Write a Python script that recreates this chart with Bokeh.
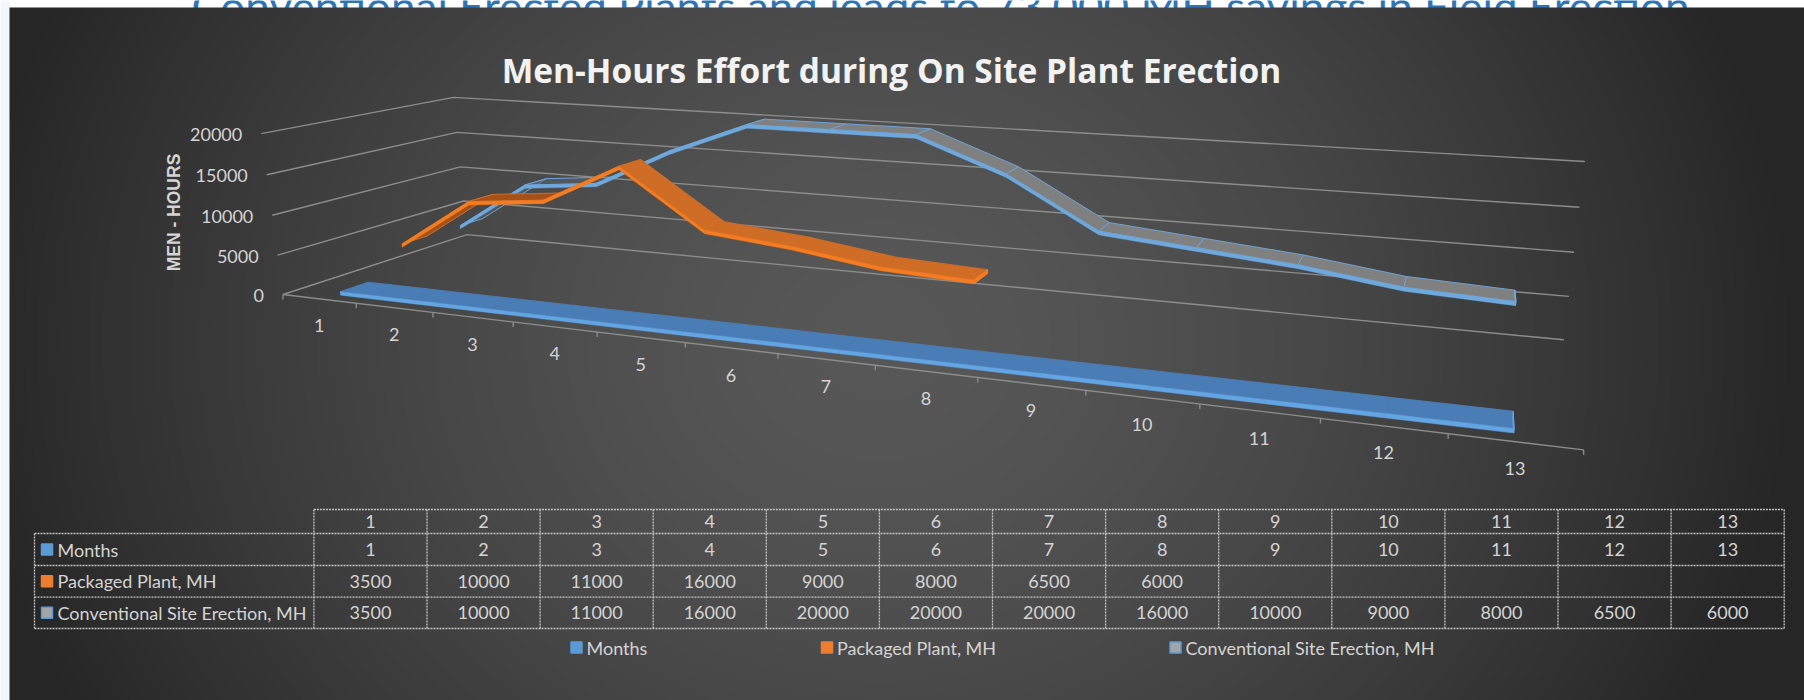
import numpy as np
from bokeh.plotting import figure
from bokeh.models import Range1d, ColumnDataSource
from bokeh.core.properties import value
from bokeh.embed import file_html
from bokeh.resources import INLINE

# ---------- data ----------
months = [1, 2, 3, 4, 5, 6, 7, 8, 9, 10, 11, 12, 13]
packaged = [3500, 10000, 11000, 16000, 9000, 8000, 6500, 6000]
conventional = [3500, 10000, 11000, 16000, 20000, 20000, 20000, 16000, 10000, 9000, 8000, 6500, 6000]
value_ticks = [0, 5000, 10000, 15000, 20000]
series_names = ["Months", "Packaged Plant, MH", "Conventional Site Erection, MH"]
title_text = "Men-Hours Effort during On Site Plant Erection"
axis_title = "MEN - HOURS"
slide_title = "Conventional Erected Plants and leads to 73,000 MH savings in Field Erection"

FONT = "Lato"
W, H = 1804, 700
p = figure(width=W, height=H, output_backend="svg", toolbar_location=None,
           x_range=Range1d(0, W), y_range=Range1d(H, 0), min_border=0,
           outline_line_color=None, border_fill_color="white", background_fill_color="white")
p.axis.visible = False
p.grid.visible = False

# ---------- slide behind the chart ----------
p.quad(left=[0], right=[9], top=[0], bottom=[H], fill_color="#f1f7fb", line_color=None)
p.text([940], [5], text=[slide_title], text_font=value(FONT), text_font_size="44px",
       text_color="#2e75b6", text_align="center", text_baseline="alphabetic")

# ---------- background: elliptical path gradient ----------
gx, gy = np.meshgrid(np.linspace(9, W, (W - 9) // 2), np.linspace(7, H, (H - 7) // 2))
t = np.clip(np.sqrt(((gx - 880) / 920) ** 2 + ((gy - 340) / 800) ** 2), 0, 1)
t = t ** 1.5
c = (88 + (38 - 88) * t).astype(np.uint32)
img = (255 << 24) | (c << 16) | (c << 8) | c
p.image_rgba(image=[img], x=9, y=7, dw=W - 9, dh=H - 7)

# ---------- camera: 3-D chart space (month, value, depth) to the page ----------
M0, M1, D = 0.5, 13.5, 3.0
cam = [
    ((M0, 0, 0), (281.7, 294.0)), ((M0, 5000, 0), (277.3, 254.3)), ((M0, 10000, 0), (271.7, 215.0)),
    ((M0, 15000, 0), (266.7, 174.3)), ((M0, 20000, 0), (261.0, 133.3)),
    ((M0, 0, D), (467.3, 234.0)), ((M0, 5000, D), (463.0, 200.7)), ((M0, 10000, D), (460.0, 166.7)),
    ((M0, 15000, D), (456.0, 131.7)), ((M0, 20000, D), (453.0, 96.7)),
    ((M1, 0, D), (1563.0, 339.3)), ((M1, 5000, D), (1568.8, 296.0)), ((M1, 10000, D), (1573.4, 251.7)),
    ((M1, 15000, D), (1579.0, 206.7)), ((M1, 20000, D), (1584.4, 161.0)),
    ((M1, 0, 0), (1583.2, 449.3)),
]
A = []
for (a, b, c_), (u, v_) in cam:
    b = b / 10000.0
    A.append([a, b, c_, 1, 0, 0, 0, 0, -u * a, -u * b, -u * c_, -u])
    A.append([0, 0, 0, 0, a, b, c_, 1, -v_ * a, -v_ * b, -v_ * c_, -v_])
P = np.linalg.svd(np.array(A))[2][-1].reshape(3, 4)


def proj(m, v, z):
    h = P @ np.array([m, v / 10000.0, z, 1.0])
    return h[0] / h[2], h[1] / h[2]


def poly(points):
    pts = [proj(*q) for q in points]
    return [q[0] for q in pts], [q[1] for q in pts]


# ---------- walls, floor, ticks ----------
GRID = "#8c8c8c"
gxs, gys = [], []
for v in value_ticks:
    a, b = poly([(M0, v, 0), (M0, v, D), (M1, v, D)])
    gxs.append(a)
    gys.append(b)
a, b = poly([(M0, 0, 0), (M1, 0, 0)])
gxs.append(a)
gys.append(b)
for m in np.arange(M0, M1 + 0.5):
    x0, y0 = proj(m, 0, 0)
    gxs.append([x0, x0])
    gys.append([y0, y0 + 5])
p.multi_line(gxs, gys, line_color=GRID, line_width=1.4)

# ---------- 3-D ribbons ----------
THICK = 450
BAND = (0.3, 0.72)


def ribbon(slot, xs_, ys_, up_fill, up_alpha, down_fill, edge, front):
    z0, z1 = slot + BAND[0], slot + BAND[1]
    tx, ty, fills, alphas = [], [], [], []
    fx, fy = [], []
    for i in range(len(xs_) - 1):
        a, b = poly([(xs_[i], ys_[i], z0), (xs_[i + 1], ys_[i + 1], z0),
                     (xs_[i + 1], ys_[i + 1], z1), (xs_[i], ys_[i], z1)])
        tx.append(a)
        ty.append(b)
        rising = ys_[i + 1] > ys_[i]
        fills.append(up_fill if rising else down_fill)
        alphas.append(up_alpha if rising else 1.0)
        a, b = poly([(xs_[i], ys_[i], z0), (xs_[i + 1], ys_[i + 1], z0),
                     (xs_[i + 1], ys_[i + 1] - THICK, z0), (xs_[i], ys_[i] - THICK, z0)])
        fx.append(a)
        fy.append(b)
    # end cap
    a, b = poly([(xs_[-1], ys_[-1], z0), (xs_[-1], ys_[-1], z1),
                 (xs_[-1], ys_[-1] - THICK, z1), (xs_[-1], ys_[-1] - THICK, z0)])
    cap_x, cap_y = a, b
    src = ColumnDataSource(dict(xs=tx, ys=ty, fill=fills, alpha=alphas))
    p.patches("xs", "ys", source=src, fill_color="fill", fill_alpha="alpha",
              line_color=edge, line_width=1.0)
    p.patches([cap_x], [cap_y], fill_color=front, line_color=front)
    p.patches(fx, fy, fill_color=front, line_color=front, line_width=0.4)


ribbon(2, months, conventional, "#59646e", 0.55, "#808080", "#6ea3d6", "#6ea8dc")
ribbon(1, months[:len(packaged)], packaged, "#a5521a", 1.0, "#cf6c25", "#cf6c25", "#f57c20")
ribbon(0, months, months, "#4a7db5", 1.0, "#4a7db5", "#4a7db5", "#62a5e2")

# ---------- chart texts ----------
TXT = "#d4d4d4"
p.text([891], [69], text=[title_text], text_font=value("Open Sans"), text_font_style="bold",
       text_font_size="33.5px", text_color="#f2f2f2", text_align="center", text_baseline="middle")
vx = [proj(M0, v, 0)[0] - 19 for v in value_ticks]
vy = [proj(M0, v, 0)[1] + 1 for v in value_ticks]
p.text(vx, vy, text=[str(v) for v in value_ticks], text_font=value(FONT), text_font_size="18px",
       text_color=TXT, text_align="right", text_baseline="middle")
p.text([173], [212], text=[axis_title], angle=np.pi / 2, text_font=value("Liberation Sans"),
       text_font_style="bold", text_font_size="17.5px", text_color=TXT, text_align="center", text_baseline="middle")
mx = [proj(m, 0, 0)[0] for m in months]
my = [proj(m, 0, 0)[1] + 27 for m in months]
p.text(mx, my, text=[str(m) for m in months], text_font=value(FONT), text_font_size="18px",
       text_color=TXT, text_align="center", text_baseline="middle")

# ---------- data table ----------
T_LEFT, T_KEY, COL = 34.0, 313.4, 113.1
ROWS = [509.0, 533.0, 565.0, 596.7, 628.0]
T_RIGHT = T_KEY + COL * len(months)
TL = "#c4c4c4"
lx, ly = [], []
lx.append([T_KEY, T_RIGHT]); ly.append([ROWS[0], ROWS[0]])
for r in ROWS[1:]:
    lx.append([T_LEFT, T_RIGHT]); ly.append([r, r])
lx.append([T_LEFT, T_LEFT]); ly.append([ROWS[1], ROWS[-1]])
for i in range(len(months) + 1):
    x = T_KEY + COL * i
    lx.append([x, x]); ly.append([ROWS[0], ROWS[-1]])
p.multi_line(lx, ly, line_color=TL, line_width=1.3, line_dash="2 1")

rows = [[str(m) for m in months], [str(m) for m in months],
        [str(v) for v in packaged] + [""] * (len(months) - len(packaged)),
        [str(v) for v in conventional]]
cx, cy, ct = [], [], []
for ri, row in enumerate(rows):
    for ci, s in enumerate(row):
        if s:
            cx.append(T_KEY + COL * (ci + 0.5))
            cy.append((ROWS[ri] + ROWS[ri + 1]) / 2)
            ct.append(s)
p.text(cx, cy, text=ct, text_font=value(FONT), text_font_size="18px", text_color=TXT,
       text_align="center", text_baseline="middle")

KEY_FILL = ["#5b9bd5", "#ed7d31", "#a5a5a5"]
KEY_LINE = ["#5b9bd5", "#ed7d31", "#5b9bd5"]
ky = [(ROWS[i + 1] + ROWS[i + 2]) / 2 for i in range(3)]
p.rect([46.5] * 3, ky, width=11, height=11, fill_color=KEY_FILL, line_color=KEY_LINE, line_width=1.5)
p.text([57] * 3, ky, text=series_names, text_font=value(FONT), text_font_size="18px", text_color=TXT,
       text_align="left", text_baseline="middle")

# ---------- legend ----------
LX = [576, 826.5, 1175]
LY = 647
p.rect(LX, [LY] * 3, width=11, height=11, fill_color=KEY_FILL, line_color=KEY_LINE, line_width=1.5)
p.text([x + 10 for x in LX], [LY] * 3, text=series_names, text_font=value(FONT), text_font_size="18px",
       text_color=TXT, text_align="left", text_baseline="middle")

open("out.html", "w").write(file_html(p, INLINE))
